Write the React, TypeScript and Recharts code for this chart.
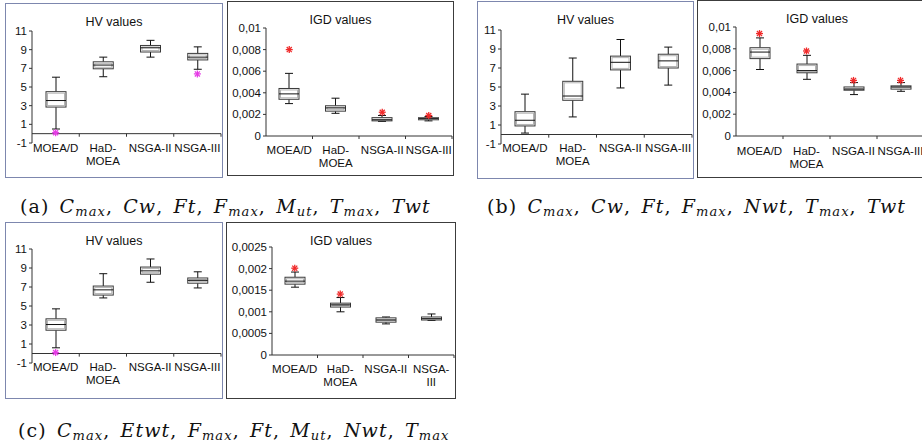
import React from "react";
import { ComposedChart, Bar, Line, XAxis, YAxis, ReferenceLine } from "recharts";

const categories = ["MOEA/D", "HaD-MOEA", "NSGA-II", "NSGA-III"];

// one row per algorithm: [low whisker, Q1, median, Q3, high whisker, outlier]
type Stat = [number, number, number, number, number, number | null];

const hvA: Stat[] = [
  [0.5, 2.85, 3.55, 4.5, 6.05, 0.1],
  [6.1, 6.95, 7.35, 7.7, 8.2, null],
  [8.2, 8.75, 9.2, 9.45, 10.0, null],
  [6.9, 7.9, 8.2, 8.6, 9.3, 6.4],
];
const igdA: Stat[] = [
  [0.003, 0.0034, 0.0039, 0.0044, 0.0058, 0.008],
  [0.0021, 0.0023, 0.0026, 0.0028, 0.0035, null],
  [0.00135, 0.0014, 0.0015, 0.0017, 0.0019, 0.0022],
  [0.0014, 0.0015, 0.0016, 0.0017, 0.0018, 0.0019],
];
const hvB: Stat[] = [
  [0.15, 0.9, 1.5, 2.4, 4.25, null],
  [1.85, 3.6, 4.05, 5.6, 8.05, null],
  [4.9, 6.8, 7.6, 8.25, 10.0, null],
  [5.2, 7.0, 7.75, 8.45, 9.2, null],
];
const igdB: Stat[] = [
  [0.0061, 0.0071, 0.0077, 0.0081, 0.009, 0.0094],
  [0.0052, 0.0058, 0.006, 0.0066, 0.0074, 0.0078],
  [0.0038, 0.0042, 0.0043, 0.0045, 0.0049, 0.0051],
  [0.0041, 0.0043, 0.0045, 0.0046, 0.0049, 0.0051],
];
const hvC: Stat[] = [
  [0.6, 2.45, 3.05, 3.65, 4.7, 0.1],
  [5.85, 6.15, 6.7, 7.1, 8.4, null],
  [7.5, 8.35, 8.7, 9.1, 9.95, null],
  [6.9, 7.4, 7.7, 7.95, 8.6, null],
];
const igdC: Stat[] = [
  [0.00157, 0.00164, 0.00171, 0.0018, 0.00192, 0.00201],
  [0.001, 0.00111, 0.00116, 0.0012, 0.00133, 0.00141],
  [0.00072, 0.00076, 0.00081, 0.00086, 0.00088, null],
  [0.0008, 0.00081, 0.00084, 0.00088, 0.00095, null],
];

const hvTicks = [-1, 1, 3, 5, 7, 9, 11];
const igdTicks = [0, 0.002, 0.004, 0.006, 0.008, 0.01];
const igdTicksC = [0, 0.0005, 0.001, 0.0015, 0.002, 0.0025];

const FONT = '"Liberation Sans", Arial, sans-serif';
const BLUE_BORDER = "#7d87ae";
const DARK_BORDER = "#3c3c3c";

type Panel = {
  title: string;
  stats: Stat[];
  domain: [number, number];
  ticks: number[];
  box: [number, number, number, number]; // x, y, w, h of the framed panel
  plot: [number, number, number, number]; // left, top, right, bottom of plot area
  border: string;
  starColor: string;
  labelOffset: number;
  tickDown: number;
  wrap: string[];
};

const panels: Panel[] = [
  {
    title: "HV values", stats: hvA, domain: [-1, 11], ticks: hvTicks,
    box: [5, 3, 218, 175], plot: [32, 31, 221, 143], border: BLUE_BORDER,
    starColor: "#e63ce6", labelOffset: 9, tickDown: 0.33, wrap: ["HaD-MOEA"],
  },
  {
    title: "IGD values", stats: igdA, domain: [0, 0.01], ticks: igdTicks,
    box: [227, 1, 227, 175], plot: [266, 28, 452, 136], border: DARK_BORDER,
    starColor: "#f02a2a", labelOffset: 18, tickDown: 0.00028, wrap: ["HaD-MOEA"],
  },
  {
    title: "HV values", stats: hvB, domain: [-1, 11], ticks: hvTicks,
    box: [477, 1, 217, 178], plot: [501, 30, 692, 144], border: BLUE_BORDER,
    starColor: "#e63ce6", labelOffset: 8, tickDown: 0.33, wrap: ["HaD-MOEA"],
  },
  {
    title: "IGD values", stats: igdB, domain: [0, 0.01], ticks: igdTicks,
    box: [697, 0, 240, 178], plot: [736, 27, 924, 136], border: DARK_BORDER,
    starColor: "#f02a2a", labelOffset: 19, tickDown: 0.00028, wrap: ["HaD-MOEA"],
  },
  {
    title: "HV values", stats: hvC, domain: [-1, 11], ticks: hvTicks,
    box: [5, 222, 218, 177], plot: [32, 249, 221, 363], border: BLUE_BORDER,
    starColor: "#e63ce6", labelOffset: 8, tickDown: 0.33, wrap: ["HaD-MOEA"],
  },
  {
    title: "IGD values", stats: igdC, domain: [0, 0.0025], ticks: igdTicksC,
    box: [226, 222, 230, 177], plot: [272, 247, 454, 355], border: DARK_BORDER,
    starColor: "#f02a2a", labelOffset: 18, tickDown: 0.00007, wrap: ["HaD-MOEA", "NSGA-III"],
  },
];

function BoxShape(props: any) {
  const { x, y, width, height, payload } = props;
  if (!payload || height == null) return null;
  const [lo, q1, med, q3, hi] = payload.stat as Stat;
  const px = (v: number) => y + ((hi - v) / (hi - lo)) * height;
  const cx = x + width / 2;
  const top = px(q3);
  const bot = px(q1);
  const h = Math.max(bot - top, 1);
  const cap = 4;
  return (
    <g>
      <line x1={cx} x2={cx} y1={px(hi)} y2={top} stroke="#111" />
      <line x1={cx} x2={cx} y1={bot} y2={px(lo)} stroke="#111" />
      <line x1={cx - cap} x2={cx + cap} y1={px(hi)} y2={px(hi)} stroke="#111" />
      <line x1={cx - cap} x2={cx + cap} y1={px(lo)} y2={px(lo)} stroke="#111" />
      <rect x={x} y={top} width={width} height={h} fill="#fff" stroke="#3a3a3a" />
      {h > 3 && (
        <rect x={x + 1.5} y={top + 1.5} width={width - 3} height={h - 3} fill="none" stroke="#b4b4b4" />
      )}
      {h <= 3 && <rect x={x} y={top} width={width} height={h} fill="#8a8a8a" />}
      <line x1={x} x2={x + width} y1={px(med)} y2={px(med)} stroke="#111" />
    </g>
  );
}

function starDot(p: any, color: string) {
  const { cx, cy, payload, index } = p;
  if (cx == null || cy == null || !payload || payload.out == null) return <g key={`s${index}`} />;
  const r = 3.5;
  const d = r * 0.72;
  return (
    <g key={`s${index}`} stroke={color} strokeWidth={1.3}>
      <line x1={cx} x2={cx} y1={cy - r} y2={cy + r} />
      <line x1={cx - d} x2={cx + d} y1={cy - d} y2={cy + d} />
      <line x1={cx - d} x2={cx + d} y1={cy + d} y2={cy - d} />
      <line x1={cx - r} x2={cx + r} y1={cy} y2={cy} />
    </g>
  );
}

function CategoryTick(props: any) {
  const { x, y, payload, wrap, offset } = props;
  const name: string = payload.value;
  let lines = [name];
  if (wrap.includes(name)) {
    const i = name.indexOf("-");
    lines = [name.slice(0, i + 1), name.slice(i + 1)];
  }
  return (
    <text x={x} y={y + offset} textAnchor="middle" fontSize={11.5} fontFamily={FONT} fill="#111">
      {lines.map((l, i) => (
        <tspan key={i} x={x} dy={i === 0 ? 0 : 13}>
          {l}
        </tspan>
      ))}
    </text>
  );
}

function BoxPanel({ p }: { p: Panel }) {
  const [bx, by, bw, bh] = p.box;
  const [pl, pt, pr, pb] = p.plot;
  const cw = bw - 2;
  const ch = bh - 2;
  const ox = bx + 1;
  const oy = by + 1;
  const data = categories.map((name, i) => ({
    name,
    stat: p.stats[i],
    out: p.stats[i][5],
  }));
  const fmt = (v: number) => String(v).replace(".", ",");
  return (
    <div
      style={{
        position: "absolute",
        left: bx,
        top: by,
        width: bw,
        height: bh,
        boxSizing: "border-box",
        border: `1px solid ${p.border}`,
        overflow: "hidden",
        background: "#fff",
      }}
    >
      <div
        style={{
          position: "absolute",
          left: 0,
          width: cw,
          top: 11,
          textAlign: "center",
          fontFamily: FONT,
          fontSize: 12.5,
          lineHeight: "14px",
          color: "#111",
        }}
      >
        {p.title}
      </div>
      <ComposedChart
        width={cw}
        height={ch}
        data={data}
        margin={{ top: pt - oy, right: ox + cw - pr, bottom: 0, left: 0 }}
        style={{ position: "absolute", left: 0, top: 0 }}
      >
        <XAxis
          dataKey="name"
          height={oy + ch - pb}
          axisLine={false}
          tickLine={false}
          tickSize={0}
          tickMargin={0}
          interval={0}
          tick={<CategoryTick wrap={p.wrap} offset={p.labelOffset} />}
        />
        <YAxis
          width={pl - ox}
          domain={p.domain}
          ticks={p.ticks}
          allowDataOverflow
          tickFormatter={fmt}
          tickSize={3}
          tickMargin={2}
          axisLine={{ stroke: "#333" }}
          tickLine={{ stroke: "#333" }}
          tick={{ fontSize: 11.5, fontFamily: FONT, fill: "#111" }}
        />
        <ReferenceLine y={0} stroke="#333" ifOverflow="visible" />
        {categories.slice(1).map((c) => (
          <ReferenceLine
            key={c}
            segment={[{ x: c, y: 0 }, { x: c, y: -p.tickDown }]}
            position="start"
            stroke="#333"
            ifOverflow="visible"
          />
        ))}
        <ReferenceLine
          segment={[{ x: categories[3], y: 0 }, { x: categories[3], y: -p.tickDown }]}
          position="end"
          stroke="#333"
          ifOverflow="visible"
        />
        <Bar
          dataKey={(d: any) => [d.stat[0], d.stat[4]]}
          barSize={20}
          shape={<BoxShape />}
          isAnimationActive={false}
        />
        <Line
          dataKey="out"
          stroke="none"
          dot={(d: any) => starDot(d, p.starColor)}
          activeDot={false}
          isAnimationActive={false}
        />
      </ComposedChart>
    </div>
  );
}

const capStyle: React.CSSProperties = {
  position: "absolute",
  fontFamily: '"DejaVu Serif", "Liberation Serif", serif',
  fontSize: 19,
  whiteSpace: "nowrap",
  color: "#111",
  lineHeight: "20px",
  letterSpacing: "1.1px",
  wordSpacing: "3px",
};
const subStyle: React.CSSProperties = { fontSize: 13, fontStyle: "italic", lineHeight: 0, verticalAlign: "-3px" };

function V({ b, s }: { b: string; s?: string }) {
  return (
    <span>
      <i>{b}</i>
      {s && <sub style={subStyle}>{s}</sub>}
    </span>
  );
}

export default function App() {
  return (
    <div
      style={{
        position: "fixed",
        left: 0,
        top: 0,
        width: 922,
        height: 445,
        overflow: "hidden",
        background: "#fff",
      }}
    >
      {panels.map((p, i) => (
        <BoxPanel key={i} p={p} />
      ))}
      <div style={{ ...capStyle, left: 20, top: 196 }}>
        (a) <V b="C" s="max" />, <V b="Cw" />, <V b="Ft" />, <V b="F" s="max" />, <V b="M" s="ut" />,{" "}
        <V b="T" s="max" />, <V b="Twt" />
      </div>
      <div style={{ ...capStyle, left: 487, top: 196 }}>
        (b) <V b="C" s="max" />, <V b="Cw" />, <V b="Ft" />, <V b="F" s="max" />, <V b="Nwt" />,{" "}
        <V b="T" s="max" />, <V b="Twt" />
      </div>
      <div style={{ ...capStyle, left: 18, top: 420 }}>
        (c) <V b="C" s="max" />, <V b="Etwt" />, <V b="F" s="max" />, <V b="Ft" />, <V b="M" s="ut" />,{" "}
        <V b="Nwt" />, <V b="T" s="max" />
      </div>
    </div>
  );
}
